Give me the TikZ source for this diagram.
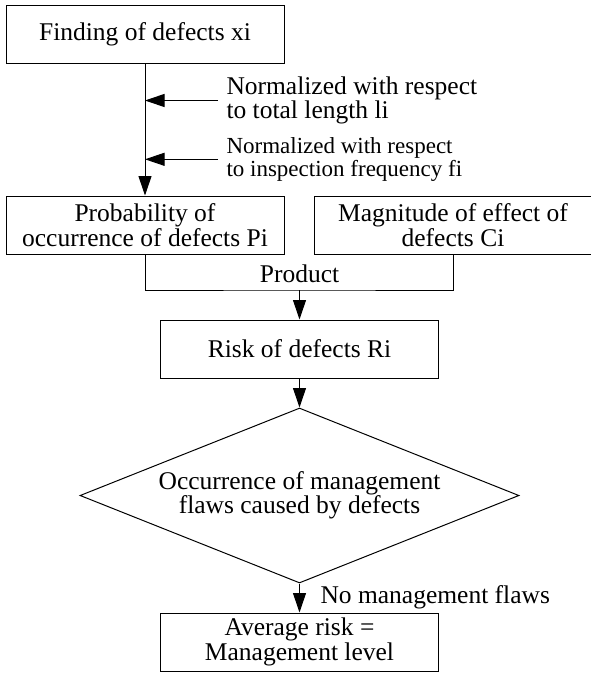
\documentclass[tikz,border=0pt]{standalone}
\usepackage{fontspec}
\setmainfont{Liberation Serif}
\usetikzlibrary{arrows.meta,shapes.geometric}
\newcommand\mainfs{\fontsize{25.5}{24.5}\selectfont}
\newcommand\smallfs{\fontsize{23}{22.7}\selectfont}
\begin{document}
\begin{tikzpicture}[x=1pt,y=1pt,line width=1pt,
  box/.style={draw, rectangle, minimum width=278pt, minimum height=58pt, inner sep=2pt, align=center, font=\mainfs},
  txt/.style={inner sep=0pt, align=center, font=\mainfs},
  note/.style={inner sep=0pt, align=left, anchor=west},
  arr/.style={-{Triangle[length=19.5pt,width=13pt]}}]
\useasboundingbox (0,0) rectangle (591,-673);

\node[box] (x1) at (145,-34) {Finding of defects xi};
\node[box] (pi) at (145,-225) {Probability of\\occurrence of defects Pi};
\node[box] (ci) at (453,-225) {Magnitude of effect of\\defects Ci};
\node[box] (risk) at (299.5,-349) {Risk of defects Ri};
\node[diamond, draw, minimum width=439pt, minimum height=175pt, inner sep=0pt] (dia) at (299.5,-495.5) {};
\node[txt] (diatext) at (dia.center) {Occurrence of management\\flaws caused by defects};
\node[box] (avg) at (299.5,-642) {Average risk =\\Management level};

\draw[arr] (x1.south) -- (pi.north);

\coordinate (s1) at (218,-100.5);
\coordinate (m1) at (145,-100.5);
\coordinate (s2) at (218,-159.3);
\coordinate (m2) at (145,-159.3);
\draw[arr] (s1) -- (m1);
\draw[arr] (s2) -- (m2);
\node[note, font=\mainfs] (n1) at (226,-100.5) {Normalized with respect\\to total length li};
\node[note, font=\smallfs] (n2) at (226,-159.5) {Normalized with respect\\to inspection frequency fi};

\coordinate (jn) at (299.5,-290);
\draw (pi.south) |- (jn) -| (ci.south);
\node[txt] (prod) at (299.5,-274) {Product};
\draw[arr] (jn) -- (risk.north);

\draw[arr] (risk.south) -- (dia.north);
\draw[arr] (dia.south) -- (avg.north);
\node[txt, anchor=west] (nmf) at (320,-597) {No management flaws};
\end{tikzpicture}
\end{document}
